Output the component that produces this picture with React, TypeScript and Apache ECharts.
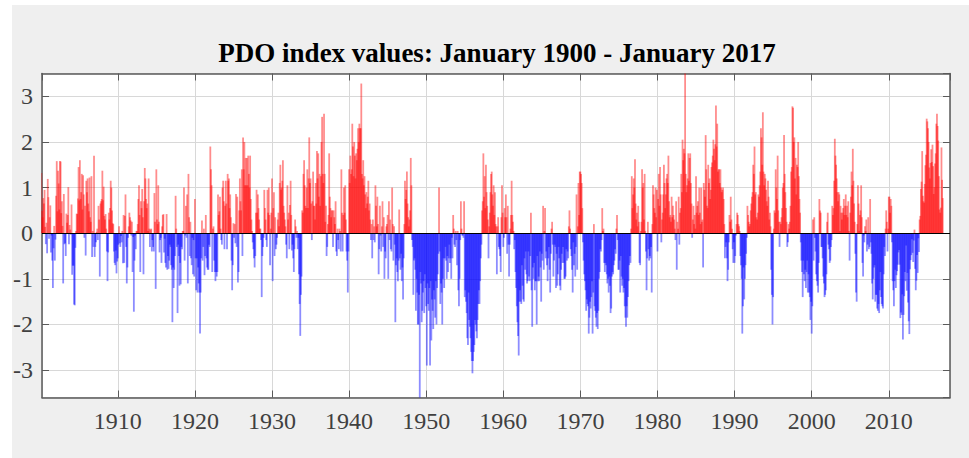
import React, { useEffect, useRef } from "react";
import * as echarts from "echarts";

const titleText = "PDO index values: January 1900 - January 2017";
const startYear = 1900;

const pdo1900s = [
  0.04,1.32,0.49,0.35,0.77,0.65,0.95,0.14,-0.24,0.23,-0.44,1.19,
  0.79,-0.12,0.35,0.61,-0.42,-0.05,-0.60,-1.20,-0.33,0.16,-0.60,-0.14,
  0.82,1.58,0.48,1.37,1.09,0.52,1.58,1.57,0.44,0.70,0.16,-1.10,
  0.86,-0.24,-0.22,-0.50,0.43,0.23,0.40,1.01,-0.24,0.18,0.08,-0.03,
  0.63,-0.91,-0.71,-0.71,-1.56,-1.58,-0.32,0.05,0.43,0.42,0.76,1.45,
  0.72,1.60,0.75,0.90,1.30,0.52,1.27,0.85,-0.10,0.60,-0.49,1.15,
  0.90,1.20,0.65,0.48,1.22,0.35,0.25,1.25,-0.52,0.05,-0.30,1.70,
  -0.52,-0.30,-0.20,0.03,0.10,-0.15,0.60,0.30,-0.95,0.65,0.70,0.75,
  1.37,0.72,1.02,0.38,0.30,0.42,0.10,-0.40,-1.05,-0.42,0.45,0.30,
  0.55,1.15,1.00,0.50,0.22,0.20,-0.40,-0.65,-0.70,-0.38,-0.88,-0.62,
];
const pdo1910s = [
  -0.55,-0.25,0.15,-0.22,-0.30,-0.06,-0.20,0.05,-0.66,0.40,-0.65,0.38,
  0.85,-0.30,-1.10,-0.75,-0.10,0.15,0.45,0.35,0.28,-0.05,0.25,-0.85,
  -0.08,-1.72,-0.60,-0.05,-0.35,0.05,0.05,0.20,0.75,1.05,0.40,-0.85,
  0.70,0.55,0.97,0.35,-0.90,0.70,1.43,1.20,0.75,0.55,0.65,0.05,
  1.20,0.10,-0.30,0.08,0.10,-0.40,-0.15,-0.30,-0.40,0.88,0.25,-1.22,
  1.40,0.30,0.20,1.05,0.25,-0.42,-0.15,-0.10,-0.65,0.15,0.40,0.42,
  -0.42,-0.12,-0.65,-0.75,0.42,-0.80,-0.50,-0.78,-0.60,-0.25,-0.30,-0.70,
  -0.80,-1.95,-0.75,-1.20,-0.80,-0.50,0.82,0.10,-0.30,-1.75,-0.25,-0.50,
  -1.15,-0.65,-1.12,-0.30,-0.35,0.05,0.05,1.00,-0.60,-0.05,0.60,-0.10,
  0.85,-1.10,1.30,0.35,-0.50,0.25,-0.55,-0.70,-0.10,-0.90,-0.15,-0.95,
];
const pdo1920s = [
  0.75,-0.55,-1.25,-0.55,-1.30,-0.75,-1.10,-1.30,-2.20,-1.30,-0.55,0.28,
  -0.60,-0.30,0.10,-0.92,-0.50,0.40,-0.55,-0.75,-0.80,-0.80,-0.25,-0.30,
  1.90,1.40,1.05,-0.85,0.10,0.15,-0.60,-0.85,-1.05,-0.85,-0.95,-0.85,
  0.85,0.40,0.48,0.80,0.10,-0.15,-0.25,1.00,1.15,0.70,-0.35,0.60,
  1.15,0.65,-0.35,1.30,1.15,1.20,0.55,0.85,0.35,-0.60,-1.25,-0.70,
  0.22,-0.10,0.20,-0.22,0.86,-0.30,0.80,-1.08,-0.85,0.50,1.20,0.70,
  0.50,1.40,-0.50,2.10,1.40,2.00,1.05,1.65,1.05,1.65,1.05,1.70,
  1.30,1.00,1.70,0.75,0.30,0.05,-0.20,-0.35,-0.55,-0.75,-0.50,0.45,
  0.95,0.45,0.85,0.55,0.30,0.10,0.10,-0.15,-1.40,-0.50,-0.30,-0.10,
  0.95,0.55,0.30,-0.15,-0.30,0.95,0.45,1.00,0.40,-0.70,0.10,0.45,
];
const pdo1930s = [
  1.20,-1.05,0.55,0.90,-0.50,0.35,-0.35,-0.25,-0.10,0.30,0.45,0.15,
  1.10,1.50,0.95,1.00,1.15,1.60,0.60,0.45,0.30,0.15,-0.25,-0.55,
  1.05,0.30,0.45,-0.35,0.62,1.15,0.40,-0.38,-0.25,-0.55,-0.85,-0.35,
  0.30,0.15,-0.10,0.05,-0.35,-0.10,-0.90,-1.55,-2.25,-1.35,-0.95,0.50,
  0.45,1.30,1.60,1.05,0.60,0.55,1.00,1.40,0.55,1.20,2.10,1.10,
  1.20,0.65,-0.15,0.70,1.35,0.60,0.60,0.30,1.10,0.65,1.80,1.20,
  1.75,0.80,1.30,0.60,1.25,2.00,2.55,1.30,1.10,2.62,1.30,0.25,
  0.60,-0.50,-0.30,0.20,0.40,1.75,0.80,0.55,0.35,0.50,0.50,-0.30,
  0.50,0.35,0.20,0.70,-0.40,-0.50,0.10,-0.15,-0.35,0.10,0.05,-0.40,
  1.40,0.45,-0.40,0.40,1.00,0.45,1.05,0.30,-0.40,-0.60,-1.30,-0.40,
];
const pdo1940s = [
  1.40,1.10,1.70,1.30,1.40,2.40,1.90,1.25,2.00,1.70,1.20,1.75,
  1.60,1.85,2.30,2.00,2.40,2.30,2.30,3.28,1.30,1.20,1.60,1.05,
  1.25,0.85,0.55,0.90,0.65,0.80,1.15,0.50,0.65,0.30,-0.15,0.20,
  -0.55,0.30,-0.15,0.15,-0.20,1.05,0.60,0.15,0.80,0.20,-0.90,-0.35,
  0.60,-0.05,-0.40,0.15,0.70,-0.30,0.35,-1.00,-0.40,-0.55,0.15,0.20,
  0.40,-1.00,0.70,-0.15,0.30,-0.35,-0.40,1.00,0.20,-0.60,0.15,-0.25,
  -1.95,-0.70,-0.55,-0.85,-1.05,-0.60,0.52,-0.55,-0.80,-0.45,-1.05,-0.75,
  -1.45,-0.55,0.20,1.15,0.75,0.95,1.35,0.65,0.35,0.15,0.30,0.50,
  1.65,1.05,-0.15,-0.30,-1.35,-0.60,-0.55,-0.80,-1.70,-1.00,-1.30,-2.00,
  -2.00,-1.35,-3.60,-0.85,-1.10,-1.95,-1.70,-1.30,-1.05,-1.75,-0.90,-1.20,
];
const pdo1950s = [
  -1.60,-2.90,-1.10,-1.55,-1.70,-1.20,-2.90,-1.05,-2.35,-1.45,-1.70,-2.10,
  -1.25,-1.45,-1.85,-1.05,-2.00,-1.20,-0.90,-0.45,1.00,-0.40,-1.55,-1.10,
  -1.30,-2.00,-1.00,-0.55,-1.20,-0.55,-0.30,-0.60,-1.00,-0.50,-0.85,-0.55,
  -0.25,-0.65,-0.55,-1.00,-0.10,-0.55,0.40,0.10,-0.25,-0.30,0.05,-0.15,
  -0.70,0.05,-1.25,-1.60,-1.00,-0.15,0.70,0.10,-0.05,-0.05,-0.10,0.70,
  -1.40,-1.25,-1.50,-1.75,-2.30,-2.45,-1.30,-1.90,-2.05,-2.30,-2.60,-2.80,
  -3.07,-2.80,-2.60,-2.45,-1.90,-2.00,-2.15,-2.30,-1.90,-1.55,-1.25,-1.55,
  -1.05,-0.55,-0.25,0.50,0.70,1.75,0.80,1.25,0.55,1.50,0.90,0.60,
  0.30,-0.55,0.15,0.45,0.90,1.30,1.35,0.85,0.60,1.05,0.40,0.90,
  0.20,0.15,-0.90,0.15,0.35,-0.30,-0.35,-0.50,-0.85,0.35,1.05,0.45,
];
const pdo1960s = [
  -0.30,-0.10,0.55,0.35,0.85,0.35,-0.45,0.60,-0.25,-0.95,-0.25,0.10,
  0.40,1.15,0.40,0.25,0.05,-0.35,-0.15,-0.85,-1.20,-1.60,-1.95,-2.25,
  -2.68,-1.50,-1.25,-1.50,-1.55,-0.70,-1.15,-1.45,-1.50,-0.55,-0.80,-0.40,
  -0.90,-1.10,-1.05,-0.40,-0.95,-1.05,-0.50,0.45,-1.25,-2.05,-0.75,-1.00,
  -0.65,-1.25,-1.05,-1.05,-2.00,-0.50,-1.05,-0.95,-1.05,-0.40,-0.75,-1.50,
  -0.45,-0.60,0.60,-0.80,0.05,0.55,-0.55,-0.40,-0.70,-1.05,-0.55,-0.30,
  -0.80,-1.30,-0.45,0.10,0.25,-0.25,-0.95,-0.60,-0.25,-0.30,-1.20,-0.45,
  -1.15,-0.90,-0.30,-0.55,-1.15,-1.25,-0.80,-0.45,-0.65,-0.30,-0.65,-1.00,
  -1.00,-0.95,-0.35,-0.60,-0.40,-0.55,0.15,0.50,0.10,-0.35,-0.50,-0.80,
  -1.30,-0.20,-0.70,-0.45,-0.95,-0.30,0.85,-0.80,0.15,1.10,0.40,1.35,
];
const pdo1970s = [
  1.35,1.30,1.10,0.55,-0.20,-0.60,-0.90,-1.05,-1.25,-1.70,-1.45,-1.55,
  -1.60,-2.20,-1.85,-1.50,-1.65,-1.40,-1.05,-2.20,-1.30,0.20,-1.60,-1.70,
  -1.85,-2.05,-1.75,-2.10,-1.70,-1.00,-0.85,-0.35,-0.40,-0.15,0.55,0.05,
  0.10,-0.65,-0.85,-0.65,-0.70,-0.90,-1.10,-1.00,-1.30,-0.95,-1.15,-1.75,
  -1.65,-0.95,-0.85,-0.90,-0.70,-0.60,-0.35,-0.45,0.10,0.40,-0.15,-0.80,
  -0.80,-0.60,-1.30,-0.50,-0.95,-1.15,-1.00,-1.30,-1.20,-1.60,-1.85,-2.05,
  -1.60,-1.85,-1.40,-1.05,-0.70,-0.50,-0.65,0.10,1.25,0.55,0.85,1.20,
  1.00,1.62,0.65,0.30,0.45,0.15,0.60,0.25,-0.65,-0.70,0.05,0.25,
  1.40,1.00,1.10,0.30,1.30,0.05,-0.40,-1.25,-0.55,0.25,-0.35,-0.60,
  -0.50,-0.55,-0.30,-1.30,0.20,1.05,0.85,0.55,0.45,1.00,0.35,0.95,
];
const pdo1980s = [
  -0.40,0.75,1.30,0.60,1.45,0.85,-0.20,0.30,0.45,0.85,1.50,1.10,
  0.55,0.85,1.20,1.30,1.10,1.70,0.70,0.35,0.40,0.25,0.80,0.35,
  0.60,0.40,0.30,0.10,-0.15,0.70,-0.80,0.25,0.10,0.80,-0.25,0.45,
  0.55,1.30,0.90,2.05,1.60,1.85,1.75,3.50,1.30,0.90,1.05,1.20,
  1.75,1.15,1.65,1.75,1.10,0.65,-0.10,0.30,0.60,0.20,0.40,0.10,
  1.25,0.45,0.60,0.70,0.40,1.00,0.45,0.20,1.00,0.25,0.30,-0.75,
  1.10,0.95,0.80,2.15,1.40,0.60,0.55,1.50,1.10,1.20,0.75,0.95,
  1.45,1.55,1.70,2.05,1.85,1.60,1.95,2.80,1.90,2.40,1.35,1.40,
  1.40,1.10,1.40,1.00,0.90,0.95,1.00,0.75,0.20,-0.55,-0.30,-0.20,
  -0.55,-1.05,-0.80,-0.20,0.40,0.25,0.80,0.30,0.10,-0.35,-0.65,-0.20,
];
const pdo1990s = [
  -0.65,-0.50,-0.05,0.20,0.45,0.40,0.20,0.15,0.05,-0.50,-0.70,-1.00,
  -2.20,-1.60,-0.75,-1.45,-1.00,-0.70,-0.45,-0.10,0.60,0.40,0.25,0.15,
  0.20,0.50,0.65,0.80,0.90,1.50,1.30,1.90,0.85,0.90,0.35,0.30,
  0.45,0.85,0.80,1.05,1.35,2.30,2.10,1.50,2.65,1.35,1.05,1.30,
  1.20,0.95,0.70,0.60,1.15,0.80,0.30,0.45,0.15,-0.80,-1.35,-2.00,
  -1.40,0.10,0.50,0.45,1.40,1.00,0.75,1.70,0.50,0.25,-0.30,0.25,
  0.20,0.35,0.55,1.00,1.10,2.15,1.30,0.90,0.55,0.25,-0.30,-0.20,
  0.20,0.10,0.25,0.60,1.35,1.45,2.78,2.75,2.00,2.10,1.20,1.65,
  0.85,1.50,1.45,2.00,1.25,0.75,0.45,-0.20,-0.60,-0.85,-1.40,-0.60,
  -0.90,-1.05,-0.80,-1.20,-0.85,-0.60,-1.30,-0.90,-1.30,-1.40,-1.90,-1.50,
];
const pdo2000s = [
  -2.20,-1.60,0.30,-0.60,0.35,-0.10,-0.40,-0.90,-1.05,-1.15,-1.30,-0.65,
  0.75,0.50,0.45,-0.30,-0.30,-0.55,-0.95,-1.10,-1.40,-1.35,-1.25,-0.90,
  0.25,0.45,-0.25,-0.35,-0.65,-0.60,-0.30,-0.15,0.60,0.40,0.55,1.15,
  2.07,1.70,1.50,1.20,0.90,0.70,0.90,0.85,0.05,0.60,0.45,0.30,
  0.45,0.55,0.75,0.40,0.60,0.85,0.40,0.60,0.35,0.70,0.05,-0.60,
  0.45,0.80,1.35,1.05,1.85,1.15,0.65,0.25,-0.45,-1.30,-1.50,0.20,
  1.05,0.65,0.05,0.40,0.50,1.05,0.35,-0.65,-0.95,-0.05,-0.20,0.15,
  0.05,0.30,-0.40,-0.25,0.35,-0.35,-0.30,0.75,-0.20,-0.45,-1.10,-1.45,
  -1.00,-0.75,-0.70,-1.50,-1.35,-1.35,-1.65,-1.70,-1.55,-1.75,-1.25,-0.85,
  -1.40,-1.55,-1.60,-1.65,-0.90,-0.30,-0.50,0.10,0.50,0.25,-0.40,0.10,
];
const pdo2010s = [
  0.80,0.80,0.45,0.75,0.60,-0.20,-1.05,-1.25,-1.60,-1.05,-0.80,-1.20,
  -0.92,-0.83,-0.69,-0.42,-0.37,-0.69,-1.86,-1.74,-1.79,-1.34,-2.33,-1.79,
  -1.38,-0.85,-1.05,-0.27,-1.26,-0.87,-1.52,-1.93,-2.21,-0.79,-0.59,-0.48,
  -0.13,-0.43,-0.63,-0.16,0.08,-0.78,-1.25,-1.04,-0.48,-0.87,-0.11,-0.41,
  0.30,0.38,0.97,1.13,1.80,0.82,0.70,0.67,1.08,1.49,1.72,2.51,
  2.45,2.30,2.00,1.44,1.20,1.54,1.84,1.56,1.94,1.47,0.86,1.01,
  1.53,1.75,2.40,2.62,2.35,2.03,1.25,0.52,0.45,0.56,1.88,1.17,
  0.77,
];

const monthly = [
  ...pdo1900s, ...pdo1910s, ...pdo1920s, ...pdo1930s, ...pdo1940s, ...pdo1950s,
  ...pdo1960s, ...pdo1970s, ...pdo1980s, ...pdo1990s, ...pdo2000s, ...pdo2010s,
];

const yMin = -3.6;
const yMax = 3.5;
const xMin = 1900.17;
const xMax = 2017.94;
const textColor = "#404040";
const frameColor = "#5a5a5a";
const gridColor = "#d8d8d8";
const fontFamily = "'Liberation Serif', serif";

export default function App() {
  const ref = useRef<HTMLDivElement>(null);
  useEffect(() => {
    document.body.style.margin = "0";
    const chart = echarts.init(ref.current!, undefined, { renderer: "svg" });
    const hiddenAxis = { show: false };
    chart.setOption({
      animation: false,
      backgroundColor: "transparent",
      title: {
        text: titleText,
        left: 492,
        top: 34,
        textAlign: "center",
        textStyle: { fontFamily, fontSize: 27, fontWeight: "bold", color: "#000" },
      },
      grid: {
        left: 42,
        top: 73.5,
        width: 908,
        height: 324,
        show: true,
        backgroundColor: "#fff",
        borderWidth: 0,
      },
      xAxis: [
        {
          type: "value",
          min: xMin,
          max: xMax,
          minInterval: 10,
          maxInterval: 10,
          position: "bottom",
          axisLine: { onZero: false, lineStyle: { color: frameColor, width: 1.5 } },
          axisTick: { inside: true, length: 7, lineStyle: { color: frameColor, width: 1 } },
          axisLabel: {
            margin: 11,
            fontFamily,
            fontSize: 24,
            color: textColor,
            showMinLabel: false,
            showMaxLabel: false,
            formatter: (v: number) => String(v),
          },
          splitLine: { show: true, lineStyle: { color: gridColor, width: 1 } },
        },
        {
          type: "value",
          min: xMin,
          max: xMax,
          minInterval: 10,
          maxInterval: 10,
          position: "top",
          axisLine: { onZero: false, lineStyle: { color: frameColor, width: 1.5 } },
          axisTick: { inside: true, length: 7, lineStyle: { color: frameColor, width: 1 } },
          axisLabel: hiddenAxis,
          splitLine: hiddenAxis,
        },
      ],
      yAxis: [
        {
          type: "value",
          min: yMin,
          max: yMax,
          minInterval: 1,
          maxInterval: 1,
          position: "left",
          axisLine: { onZero: false, show: true, lineStyle: { color: frameColor, width: 1.5 } },
          axisTick: { show: true, inside: true, length: 7, lineStyle: { color: frameColor, width: 1 } },
          axisLabel: {
            margin: 9,
            fontFamily,
            fontSize: 24,
            color: textColor,
            showMinLabel: false,
            showMaxLabel: false,
            formatter: (v: number) => String(v),
          },
          splitLine: { show: true, lineStyle: { color: gridColor, width: 1 } },
        },
        {
          type: "value",
          min: yMin,
          max: yMax,
          minInterval: 1,
          maxInterval: 1,
          position: "right",
          axisLine: { onZero: false, show: true, lineStyle: { color: frameColor, width: 1.5 } },
          axisTick: { show: true, inside: true, length: 7, lineStyle: { color: frameColor, width: 1 } },
          axisLabel: hiddenAxis,
          splitLine: hiddenAxis,
        },
      ],
      series: [
        {
          type: "bar",
          xAxisIndex: 0,
          yAxisIndex: 0,
          barWidth: 1.8,
          data: monthly.map((v, i) => [startYear + i / 12, v]),
          itemStyle: {
            opacity: 0.45,
            color: (p: any) => (p.value[1] >= 0 ? "#ff0000" : "#0000ff"),
          },
          markLine: {
            silent: true,
            symbol: "none",
            label: { show: false },
            lineStyle: { color: "#000", width: 1, type: "solid" },
            data: [{ yAxis: 0 }],
          },
        },
      ],
    });
    return () => chart.dispose();
  }, []);
  return (
    <div style={{ position: "relative", width: 969, height: 458, background: "#fff", overflow: "hidden" }}>
      <div style={{ position: "absolute", left: 12, top: 5, right: 0, bottom: 0, background: "#efefef" }} />
      <div ref={ref} style={{ position: "absolute", left: 0, top: 0, width: 969, height: 458 }} />
    </div>
  );
}
